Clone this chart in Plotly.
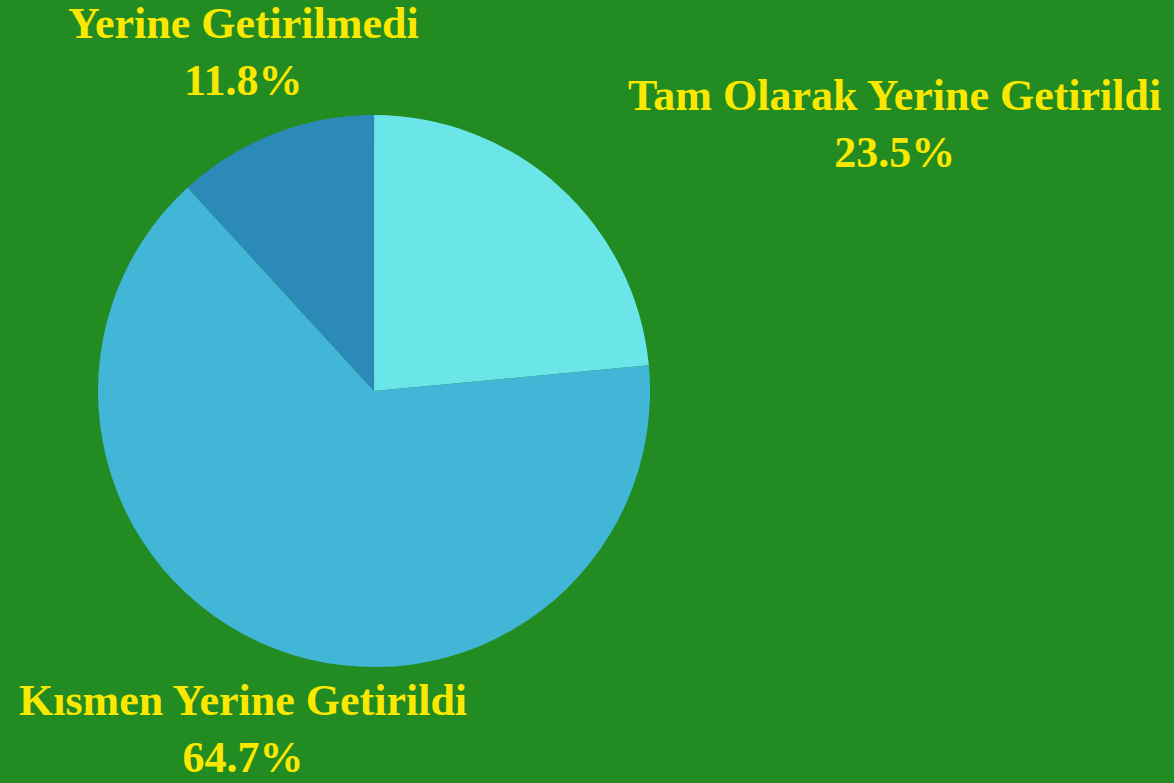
import plotly.graph_objects as go

labels = ["Tam Olarak Yerine Getirildi", "Kısmen Yerine Getirildi", "Yerine Getirilmedi"]
values = [23.5, 64.7, 11.8]
colors = ["#6AE6E9", "#41B6D6", "#2C8AB8"]
# label anchor positions (paper coords, centre of text block)
label_x = [0.762, 0.207, 0.207]
label_y = [0.842, 0.069, 0.934]

fig = go.Figure()
fig.add_trace(go.Pie(
    labels=labels, values=values, sort=False, direction="clockwise", rotation=0,
    marker=dict(colors=colors, line=dict(width=0)),
    textinfo="none", hoverinfo="label+percent", showlegend=False,
    domain=dict(x=[0.0835, 0.5537], y=[0.148, 0.853]),
))

total = sum(values)
for lab, v, x, y in zip(labels, values, label_x, label_y):
    fig.add_annotation(
        x=x, y=y, xref="paper", yref="paper", xanchor="center", yanchor="middle",
        text=f"<b>{lab}</b><br><b>{v / total * 100:.1f}%</b>", showarrow=False,
        font=dict(family="Liberation Serif", size=44, color="#FAE800"),
        align="center",
    )

fig.update_layout(
    width=1174, height=783, margin=dict(l=0, r=0, t=0, b=0),
    paper_bgcolor="#228B22", plot_bgcolor="#228B22",
)
fig.write_html(
    "out.html",
    config={"displayModeBar": False},
    post_script="document.body.style.margin='0';document.body.style.background='#228B22';",
)
